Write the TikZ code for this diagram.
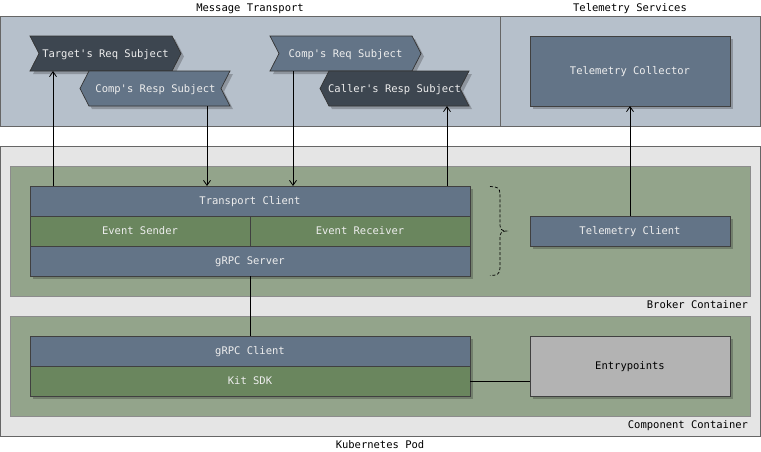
\documentclass[tikz,border=0pt]{standalone}
\usepackage{fontspec}
\setmonofont{DejaVu Sans Mono}
\usetikzlibrary{arrows.meta,shadows}
\definecolor{regionbg}{HTML}{B6C0CB}
\definecolor{podbg}{HTML}{E5E5E5}
\definecolor{contbg}{HTML}{93A48B}
\definecolor{bluenode}{HTML}{637487}
\definecolor{greennode}{HTML}{6A865E}
\definecolor{darktag}{HTML}{3D4650}
\definecolor{greybox}{HTML}{B3B3B3}
\definecolor{txtlight}{HTML}{EEEEEE}
\definecolor{edgegray}{HTML}{666666}
\begin{document}
\begin{tikzpicture}[x=1pt,y=-1pt,
  font=\ttfamily\fontsize{10.5}{12}\selectfont,
  every node/.style={inner sep=0pt,outer sep=0pt,text height=7.7pt,text depth=0pt},
  shad/.style={drop shadow={shadow xshift=3pt,shadow yshift=-3pt,fill=black,opacity=0.22}},
  region/.style={draw=edgegray,fill=regionbg,line width=0.8pt,anchor=north west},
  pod/.style={draw=edgegray,fill=podbg,line width=0.8pt,anchor=north west},
  container/.style={draw=black!45,fill=contbg,line width=0.6pt,anchor=north west},
  bluebox/.style={draw=black!75,fill=bluenode,text=txtlight,line width=0.7pt,anchor=north west,shad},
  greenbox/.style={draw=black!75,fill=greennode,text=txtlight,line width=0.7pt,anchor=north west,shad},
  greybx/.style={draw=black!75,fill=greybox,text=black,line width=0.7pt,anchor=north west,shad},
  tagdark/.style={draw=black!80,fill=darktag,line width=0.7pt,shad},
  tagblue/.style={draw=black!80,fill=bluenode,line width=0.7pt,shad},
  tagtxt/.style={text=txtlight},
  arr/.style={draw=black,line width=0.8pt,-{Straight Barb[length=5pt,width=7pt]}},
  conn/.style={draw=black,line width=0.8pt},
  bracestyle/.style={draw=black,line width=0.7pt,dashed,dash pattern=on 3pt off 2pt}]
\useasboundingbox (0,0) rectangle (761,451);

% regions
\node[region,minimum width=500,minimum height=110] (mt) at (0,16) {};
\node[region,minimum width=260,minimum height=110] (ts) at (500,16) {};
\node (mtlabel) at (250,8) {Message Transport};
\node (tslabel) at (630,8) {Telemetry Services};

\node[pod,minimum width=760,minimum height=290] (pod) at (0,146) {};
\node (podlabel) at (380,445) {Kubernetes Pod};
\node[container,minimum width=740,minimum height=130] (broker) at (10,166) {};
\node[anchor=east] (brokerlabel) at (748,305) {Broker Container};
\node[container,minimum width=740,minimum height=100] (comp) at (10,316) {};
\node[anchor=east] (complabel) at (748,425) {Component Container};

% tags
\path[tagdark] (30,36) -- (172,36) -- (181,53.5) -- (172,71) -- (30,71) -- (39,53.5) -- cycle;
\node[tagtxt] (treq) at (105.5,54) {Target's Req Subject};
\path[tagblue] (89,71) -- (230,71) -- (221,88.5) -- (230,106) -- (89,106) -- (80,88.5) -- cycle;
\node[tagtxt] (cresp) at (155.5,89) {Comp's Resp Subject};
\path[tagblue] (270,36) -- (412,36) -- (421,53.5) -- (412,71) -- (270,71) -- (279,53.5) -- cycle;
\node[tagtxt] (creq) at (345.5,54) {Comp's Req Subject};
\path[tagdark] (329,71) -- (469,71) -- (460,88.5) -- (469,106) -- (329,106) -- (320,88.5) -- cycle;
\node[tagtxt] (callresp) at (394.5,89) {Caller's Resp Subject};
\coordinate (treqb) at (53,71);
\coordinate (crespb) at (207,106);
\coordinate (creqb) at (293,71);
\coordinate (callrespb) at (447,106);

% telemetry collector
\node[bluebox,minimum width=200,minimum height=70] (tcol) at (530,36) {Telemetry Collector};

% broker stack
\node[bluebox,minimum width=440,minimum height=30] (tc) at (30,186) {Transport Client};
\node[greenbox,minimum width=220,minimum height=30] (es) at (30,216) {Event Sender};
\node[greenbox,minimum width=220,minimum height=30] (er) at (250,216) {Event Receiver};
\node[bluebox,minimum width=440,minimum height=30] (gs) at (30,246) {gRPC Server};
\node[bluebox,minimum width=200,minimum height=30] (tcl) at (530,216) {Telemetry Client};

% component stack
\node[bluebox,minimum width=440,minimum height=30] (gc) at (30,336) {gRPC Client};
\node[greenbox,minimum width=440,minimum height=30] (kit) at (30,366) {Kit SDK};
\node[greybx,minimum width=200,minimum height=60] (ep) at (530,336) {Entrypoints};

% brace
\draw[bracestyle] (490,186.5) .. controls (497,186.5) and (500,188) .. (500,194) -- (500,225)
  .. controls (500,229) and (502,231) .. (506,231)
  .. controls (502,231) and (500,233) .. (500,237) -- (500,268)
  .. controls (500,274) and (497,275.5) .. (490,275.5);

% connectors
\draw[arr] (tc.north -| treqb) -- (treqb);
\draw[arr] (crespb) -- (tc.north -| crespb);
\draw[arr] (creqb) -- (tc.north -| creqb);
\draw[arr] (tc.north -| callrespb) -- (callrespb);
\draw[arr] (tcl.north) -- (tcol.south);
\draw[conn] (gs.south) -- (gc.north);
\draw[conn] (kit.east) -- (ep.west |- kit.east);
\end{tikzpicture}
\end{document}
